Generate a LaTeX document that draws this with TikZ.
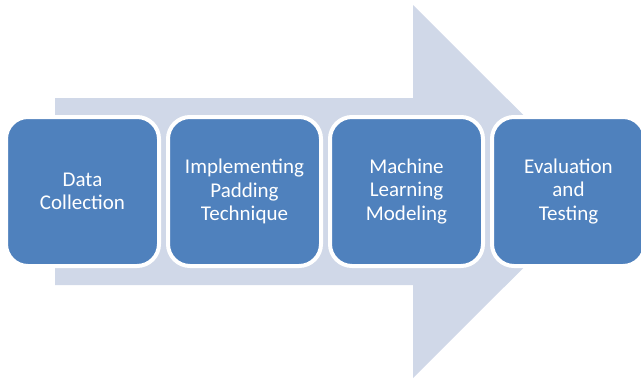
\documentclass[tikz,border=0pt]{standalone}
\usepackage{fontspec}
\setmainfont{Carlito}
\definecolor{arrowfill}{HTML}{D0D8E8}
\definecolor{boxblue}{HTML}{4F81BD}
\begin{document}
\begin{tikzpicture}[x=1pt,y=-1pt,
  stage/.style={rectangle, rounded corners=22pt, fill=boxblue, draw=white, line width=4pt,
    minimum width=153pt, minimum height=149pt, inner sep=0pt, text=white, align=center,
    font=\fontsize{21}{23.5}\selectfont}]
\useasboundingbox (0,0) rectangle (641,381);
\begin{scope}
\clip (0,0) rectangle (641,381);
\fill[arrowfill] (55,98) -- (413,98) -- (413,5) -- (600,191.5) -- (413,378) -- (413,285) -- (55,285) -- cycle;
\node[stage] (s1) at (82.5,191.5) {Data\\Collection};
\node[stage] (s2) at (244.5,191.5) {Implementing\\Padding\\Technique};
\node[stage] (s3) at (406.5,191.5) {Machine\\Learning\\Modeling};
\node[stage] (s4) at (568.5,191.5) {Evaluation\\and\\Testing};
\end{scope}
\end{tikzpicture}
\end{document}
